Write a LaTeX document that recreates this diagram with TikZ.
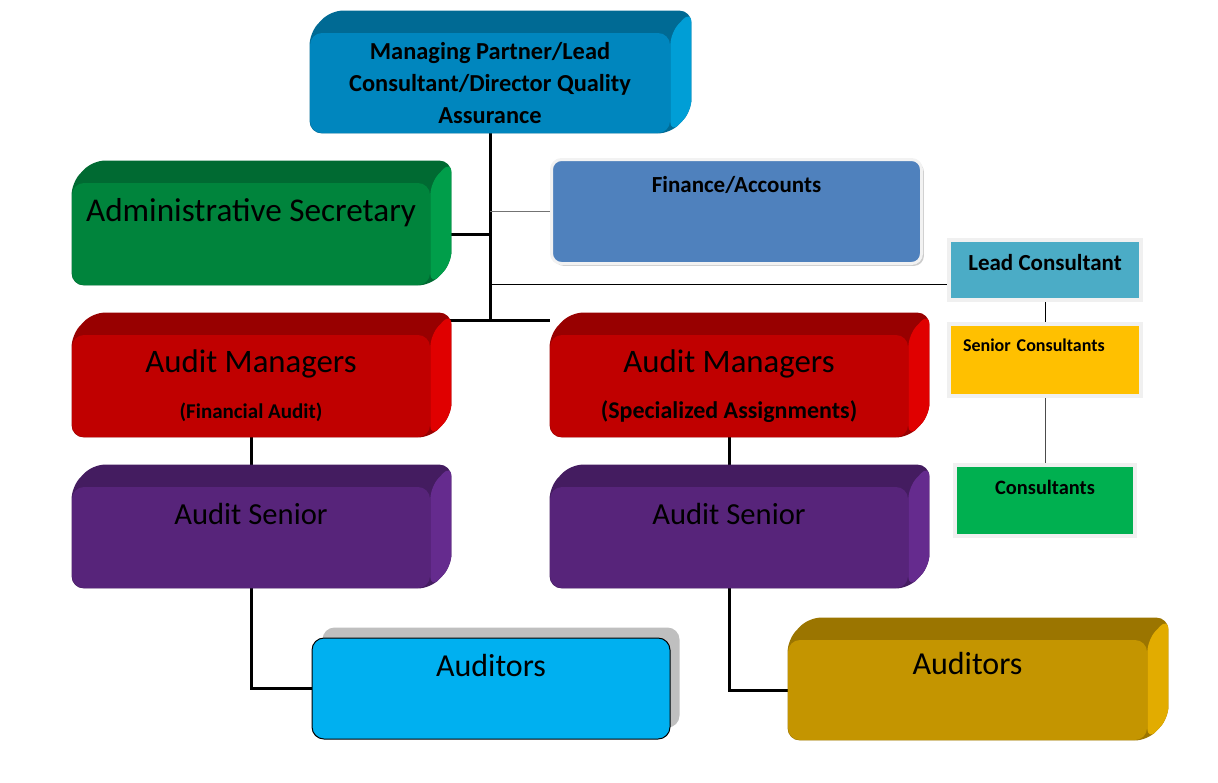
\documentclass[tikz,border=0pt]{standalone}
\usepackage{fontspec}
\setmainfont{Carlito}
\usepackage{tikz}
\usetikzlibrary{calc, backgrounds, shadows}
\definecolor{ceoface}{RGB}{0, 134, 190}
\definecolor{ceotop}{RGB}{0, 106, 148}
\definecolor{ceoside}{RGB}{0, 158, 214}
\definecolor{adminface}{RGB}{0, 132, 60}
\definecolor{admintop}{RGB}{0, 106, 50}
\definecolor{adminside}{RGB}{0, 158, 74}
\definecolor{mgrface}{RGB}{192, 0, 0}
\definecolor{mgrtop}{RGB}{152, 0, 0}
\definecolor{mgrside}{RGB}{224, 0, 0}
\definecolor{snrface}{RGB}{87, 36, 122}
\definecolor{snrtop}{RGB}{68, 28, 96}
\definecolor{snrside}{RGB}{101, 43, 142}
\definecolor{audface}{RGB}{0, 176, 240}
\definecolor{goldface}{RGB}{196, 149, 0}
\definecolor{goldtop}{RGB}{155, 117, 0}
\definecolor{goldside}{RGB}{226, 172, 0}
\definecolor{finface}{RGB}{79, 129, 189}
\definecolor{leadface}{RGB}{75, 172, 198}
\definecolor{seniorface}{RGB}{255, 192, 0}
\definecolor{consface}{RGB}{0, 176, 80}
\newcommand{\bigtext}[1]{\fontsize{#1}{19}\selectfont}
\newcommand{\subtext}[2]{{\bfseries\fontsize{#1}{12}\selectfont #2}}
% top and side faces behind a front node: node, top colour, side colour
\newcommand{\extrude}[3]{%
  \fill[#2, rounded corners=6pt] (#1.south west) -- (#1.north west) -- ++(21,-22)
    -- ($(#1.north east)+(21,-22)$) -- ($(#1.south east)+(21,-22)$) -- (#1.south east) -- cycle;
  \fill[#3, rounded corners=6pt] (#1.north east) -- ++(21,-22)
    -- ($(#1.south east)+(21,-22)$) -- (#1.south east) -- cycle;}

\begin{document}
\begin{tikzpicture}[x=0.5pt, y=-0.5pt,
  slab/.style={rectangle, rounded corners=6pt, minimum width=179pt, inner sep=0pt, font=\bigtext{16}},
  panel/.style={rectangle, rounded corners=5pt, draw=black!5, line width=1.5pt, inner sep=0pt,
    font=\bfseries\fontsize{11.5}{14}\selectfont,
    drop shadow={shadow xshift=1.2pt, shadow yshift=-1.2pt, opacity=0.4}},
  card/.style={rectangle, draw=black!6, line width=2pt, inner sep=0pt,
    font=\bfseries\fontsize{11.5}{14}\selectfont,
    drop shadow={shadow xshift=1.2pt, shadow yshift=-1.2pt, opacity=0.4}},
  link/.style={line width=1.5pt},
  fine/.style={line width=0.5pt}]

  \useasboundingbox (0,0) rectangle (1218,782);

  % --- head of the firm ---
  \node[slab, fill=ceoface, minimum width=180pt, minimum height=50pt, align=center,
    font=\bfseries\fontsize{12.2}{16}\selectfont] (ceo) at (490,83)
    {Managing Partner/Lead\\Consultant/Director Quality\\Assurance};

  % --- staff boxes ---
  \node[slab, fill=adminface, text height=19pt, text depth=32pt, font=\bigtext{16.6}]
    (admin) at (251,234) {Administrative Secretary};
  \node[panel, fill=finface, minimum width=185pt, text height=16.5pt, text depth=35.5pt]
    (finance) at (736.5,211.5) {Finance/Accounts};

  % --- consultancy line ---
  \node[card, fill=leadface, minimum width=96pt, text height=15.25pt, text depth=14.75pt]
    (lead) at (1045,270) {Lead Consultant};
  \node[card, fill=seniorface, text width=82pt, inner xsep=7pt, align=left,
    text height=13.5pt, text depth=22.5pt,
    font=\bfseries\fontsize{9}{11}\selectfont] (senior) at (1045,360) {Senior Consultants};
  \node[card, fill=consface, minimum width=90pt, text height=14.75pt, text depth=20.75pt,
    font=\bfseries\fontsize{10.2}{12}\selectfont] (cons) at (1045,500.5) {Consultants};

  % --- audit managers ---
  \node[slab, fill=mgrface, minimum height=51pt, align=center, font=\bigtext{16.4}]
    (amfin) at (251,386) {Audit Managers\\[4pt]\subtext{10.5}{(Financial Audit)}};
  \node[slab, fill=mgrface, minimum height=51pt, align=center, font=\bigtext{16.4}]
    (amspec) at (729,386) {Audit Managers\\[4pt]\subtext{12}{(Specialized Assignments)}};

  % --- audit seniors ---
  \node[slab, fill=snrface, text height=18.5pt, text depth=32pt, font=\bigtext{15.3}]
    (asfin) at (251,537.5) {Audit Senior};
  \node[slab, fill=snrface, text height=18.5pt, text depth=32pt, font=\bigtext{15.3}]
    (asspec) at (729,537.5) {Audit Senior};

  % --- auditors ---
  \node[slab, fill=audface, draw=black, line width=0.5pt, text height=19pt, text depth=31.5pt]
    (audfin) at (491,688.5) {Auditors};
  \node[slab, fill=goldface, minimum width=179.5pt, text height=17pt, text depth=33pt]
    (audspec) at (967.5,690) {Auditors};

  \begin{scope}[on background layer]
    % --- connectors ---
    \coordinate (hub) at (490,320);
    \coordinate (leadtap) at ([yshift=-7pt]lead.west);
    \draw[link] (ceo.south) -- (hub);
    \draw[link] (amfin.east |- hub) -- (amspec.west |- hub);
    \draw[link] (admin.east) -- (admin.east -| hub);
    \draw[fine, black!55] (finance.west) -- (finance.west -| hub);
    \draw[fine] (leadtap) -- (leadtap -| hub);
    \draw[fine] (lead.south) -- (senior.north);
    \draw[fine, black!70] (senior.south) -- (cons.north);
    \draw[link] (amfin.south) -- (asfin.north);
    \draw[link] (amspec.south) -- (asspec.north);
    \draw[link] (asfin.south) |- (audfin.west);
    \draw[link] (asspec.south) |- (audspec.west);

    % --- shadow of the flat auditors box ---
    \fill[black!25, rounded corners=6pt] ($(audfin.south west)+(11,-12)$)
      rectangle ($(audfin.north east)+(9,-10)$);

    % --- extruded faces ---
    \extrude{ceo}{ceotop}{ceoside}
    \extrude{admin}{admintop}{adminside}
    \extrude{amfin}{mgrtop}{mgrside}
    \extrude{amspec}{mgrtop}{mgrside}
    \extrude{asfin}{snrtop}{snrside}
    \extrude{asspec}{snrtop}{snrside}
    \extrude{audspec}{goldtop}{goldside}
  \end{scope}

\end{tikzpicture}
\end{document}
